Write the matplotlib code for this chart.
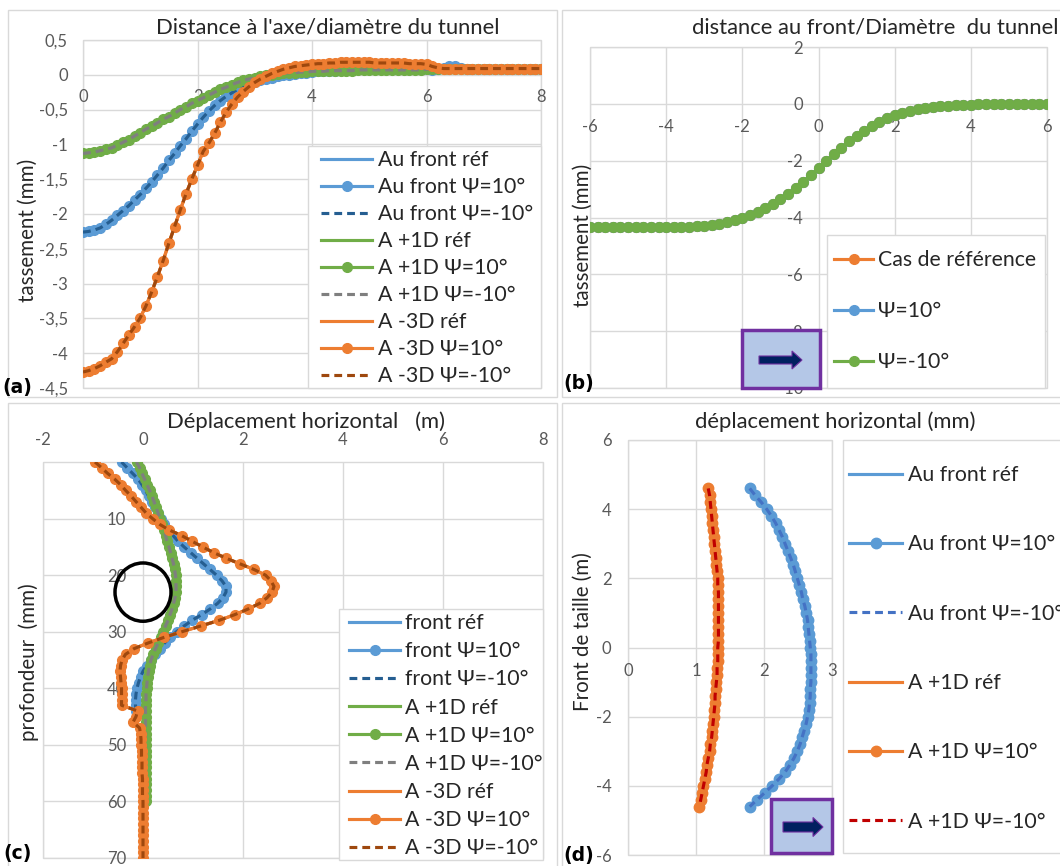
import numpy as np
import matplotlib.pyplot as plt
from matplotlib.patches import Rectangle, Ellipse, Polygon
from matplotlib.ticker import FuncFormatter, MultipleLocator

plt.rcParams['font.family'] = ['Lato', 'DejaVu Sans']

W, H = 1060, 866

# ---------------- (a) tassement vs distance a l'axe / D
dist_a = np.linspace(0, 8, 81)
a_front = [-2.26, -2.25, -2.23, -2.20, -2.15, -2.09, -2.02, -1.95, -1.88, -1.80,
           -1.72, -1.63, -1.54, -1.44, -1.34, -1.23, -1.13, -1.02, -0.92, -0.81,
           -0.71, -0.61, -0.52, -0.44, -0.37, -0.31, -0.26, -0.21, -0.17, -0.13,
           -0.10, -0.08, -0.06, -0.04, -0.02, -0.01, 0.00, 0.01, 0.02, 0.03,
           0.04, 0.05, 0.05, 0.06, 0.06, 0.07, 0.07, 0.07, 0.08, 0.08,
           0.08, 0.08, 0.08, 0.08, 0.08, 0.08, 0.08, 0.08, 0.08, 0.08,
           0.08, 0.07, 0.08, 0.10, 0.12, 0.12, 0.10, 0.09, 0.09, 0.09,
           0.09, 0.09, 0.09, 0.09, 0.09, 0.09, 0.09, 0.09, 0.09, 0.09,
           0.09]
a_plus1d = [-1.13, -1.12, -1.11, -1.09, -1.07, -1.05, -1.01, -0.97, -0.93, -0.88,
            -0.83, -0.78, -0.74, -0.69, -0.64, -0.60, -0.55, -0.50, -0.46, -0.41,
            -0.37, -0.33, -0.29, -0.25, -0.21, -0.18, -0.14, -0.11, -0.08, -0.06,
            -0.04, -0.02, -0.01, 0.00, 0.01, 0.02, 0.03, 0.03, 0.04, 0.04,
            0.05, 0.05, 0.05, 0.06, 0.06, 0.06, 0.06, 0.06, 0.07, 0.07,
            0.07, 0.07, 0.07, 0.07, 0.07, 0.07, 0.07, 0.07, 0.07, 0.07,
            0.08, 0.08, 0.08, 0.08, 0.08, 0.08, 0.08, 0.08, 0.08, 0.08,
            0.08, 0.08, 0.08, 0.08, 0.08, 0.08, 0.08, 0.08, 0.08, 0.08,
            0.08]
a_minus3d = [-4.27, -4.25, -4.22, -4.18, -4.13, -4.08, -3.98, -3.86, -3.74, -3.62,
             -3.49, -3.32, -3.12, -2.90, -2.67, -2.42, -2.18, -1.94, -1.71, -1.50,
             -1.30, -1.10, -0.98, -0.84, -0.68, -0.54, -0.42, -0.32, -0.24, -0.17,
             -0.11, -0.06, -0.02, 0.02, 0.05, 0.08, 0.10, 0.12, 0.13, 0.14,
             0.15, 0.16, 0.16, 0.17, 0.17, 0.18, 0.18, 0.18, 0.18, 0.18,
             0.18, 0.17, 0.17, 0.17, 0.17, 0.17, 0.17, 0.16, 0.16, 0.16,
             0.15, 0.12, 0.10, 0.09, 0.09, 0.09, 0.09, 0.09, 0.09, 0.09,
             0.09, 0.09, 0.09, 0.09, 0.09, 0.09, 0.09, 0.09, 0.09, 0.09,
             0.09]

# ---------------- (b) tassement vs distance au front / D
dist_b = np.linspace(-6, 6, 61)
b_settle = [-4.32, -4.32, -4.32, -4.32, -4.33, -4.33, -4.33, -4.33, -4.33, -4.33,
            -4.33, -4.33, -4.33, -4.32, -4.31, -4.29, -4.26, -4.22, -4.17, -4.10,
            -4.02, -3.92, -3.80, -3.68, -3.53, -3.35, -3.17, -2.97, -2.75, -2.50,
            -2.26, -2.01, -1.77, -1.54, -1.32, -1.12, -0.94, -0.78, -0.63, -0.51,
            -0.40, -0.31, -0.24, -0.18, -0.14, -0.11, -0.09, -0.07, -0.05, -0.04,
            -0.03, -0.02, -0.02, -0.01, -0.01, -0.01, 0.00, 0.00, 0.00, 0.00,
            0.00]
b_labels = ['Cas de référence', 'Ψ=10°', 'Ψ=-10°']

# ---------------- (c) deplacement horizontal vs profondeur
depth_c = np.arange(0, 71)
c_front = [-0.43, -0.32, -0.21, -0.10, -0.02, 0.05, 0.11, 0.17, 0.23, 0.29,
           0.35, 0.42, 0.50, 0.60, 0.70, 0.82, 0.95, 1.08, 1.21, 1.34,
           1.47, 1.58, 1.66, 1.66, 1.60, 1.49, 1.34, 1.17, 0.98, 0.82,
           0.67, 0.54, 0.43, 0.33, 0.24, 0.15, 0.07, 0.00, -0.05, -0.09,
           -0.12, -0.14, -0.15, -0.15, -0.14]
c_plus1d = [-0.13, -0.07, -0.02, 0.03, 0.08, 0.13, 0.18, 0.22, 0.26, 0.30,
            0.34, 0.38, 0.42, 0.45, 0.48, 0.52, 0.55, 0.58, 0.61, 0.63,
            0.65, 0.66, 0.66, 0.66, 0.64, 0.61, 0.58, 0.54, 0.50, 0.45,
            0.40, 0.35, 0.30, 0.25, 0.20, 0.16, 0.13, 0.11, 0.09, 0.08,
            0.07, 0.06, 0.06, 0.05, 0.05, 0.05, 0.05, 0.05, 0.05, 0.05,
            0.05, 0.05, 0.05, 0.05, 0.05, 0.05, 0.05, 0.05, 0.05, 0.05,
            0.05]
c_minus3d = [-0.96, -0.83, -0.71, -0.57, -0.45, -0.35, -0.24, -0.14, -0.04, 0.06,
             0.19, 0.33, 0.52, 0.77, 0.98, 1.19, 1.41, 1.66, 1.94, 2.22,
             2.45, 2.56, 2.62, 2.58, 2.48, 2.33, 2.10, 1.83, 1.52, 1.15,
             0.78, 0.42, 0.10, -0.18, -0.35, -0.42, -0.45, -0.46, -0.45, -0.44,
             -0.43, -0.43, -0.43, -0.43, -0.11, -0.14, -0.20, -0.07, -0.05, -0.04,
             -0.04, -0.03, -0.03, -0.02, -0.02, -0.02, -0.01, -0.01, -0.01, -0.01,
             0.00, 0.00, 0.00, 0.00, 0.00, 0.00, 0.00, 0.00, 0.00, 0.00,
             0.00]

# ---------------- (d) deplacement horizontal au front de taille
height_d = np.linspace(4.6, -4.6, 47)
d_front = [1.79, 1.87, 1.96, 2.04, 2.11, 2.17, 2.22, 2.27, 2.31, 2.35,
           2.39, 2.43, 2.46, 2.49, 2.52, 2.55, 2.57, 2.60, 2.62, 2.64,
           2.65, 2.66, 2.67, 2.68, 2.69, 2.69, 2.69, 2.69, 2.69, 2.68,
           2.68, 2.67, 2.66, 2.64, 2.62, 2.59, 2.56, 2.53, 2.49, 2.44,
           2.38, 2.31, 2.22, 2.12, 2.01, 1.90, 1.79]
d_plus1d = [1.18, 1.20, 1.21, 1.22, 1.23, 1.24, 1.25, 1.26, 1.27, 1.28,
            1.29, 1.30, 1.31, 1.32, 1.32, 1.33, 1.33, 1.33, 1.33, 1.33,
            1.33, 1.33, 1.33, 1.32, 1.32, 1.32, 1.31, 1.31, 1.30, 1.29,
            1.28, 1.28, 1.27, 1.26, 1.25, 1.24, 1.23, 1.21, 1.20, 1.18,
            1.16, 1.15, 1.13, 1.11, 1.09, 1.07, 1.05]

BLUE, DBLUE = '#5B9BD5', '#255E91'
GREEN, GREY = '#70AD47', '#7F7F7F'
ORANGE, BROWN = '#ED7D31', '#9E480E'
GRID = '#D9D9D9'
TXT = '#262626'
LW = 2.25
DASH = (0, (2.5, 1.6))
LEG_FS = 15.3
TITLE_FS = 15.8
LABEL_FS = 14.8
ROW = 19.85   # legend row height in px at LEG_FS
EM = LEG_FS * 100 / 72

fig = plt.figure(figsize=(W / 100, H / 100), dpi=100)


def fx(x):
    return x / W


def fy(y):
    return 1 - y / H


def add_ax(l, t, r, b):
    return fig.add_axes([fx(l), fy(b), (r - l) / W, (b - t) / H])


comma = FuncFormatter(lambda v, p: f"{v:g}".replace('.', ','))


def style(ax, pad_x=10, pad_y=11):
    for s in ax.spines.values():
        s.set_visible(False)
    ax.grid(True, color=GRID, lw=1)
    ax.set_axisbelow(True)
    ax.tick_params(length=0, labelsize=12, labelcolor='#595959')
    ax.tick_params(axis='x', pad=pad_x)
    ax.tick_params(axis='y', pad=pad_y)
    ax.xaxis.set_major_formatter(comma)
    ax.yaxis.set_major_formatter(comma)
    ax.add_patch(Rectangle((0, 0), 1, 1, transform=ax.transAxes, fill=False,
                           ec=GRID, lw=1, clip_on=False, zorder=0.5))


def trio(ax, xs, ys, color, dcolor, name, ms=7):
    ax.plot(xs, ys, color=color, lw=LW, label=f'{name} réf')
    ax.plot(xs, ys, color=color, lw=LW, marker='o', ms=ms, label=f'{name} Ψ=10°')
    ax.plot(xs, ys, color=dcolor, lw=LW, ls=DASH, label=f'{name} Ψ=-10°')


def legend(ax, box, hx, row1, hend, tx, spacing):
    # box: frame in px (l, t, r, b); hx: handle start; row1: first row centre
    l, t, r, b = box
    ax.add_patch(Rectangle((fx(l), fy(b)), (r - l) / W, (b - t) / H,
                           transform=fig.transFigure, fc='white', ec=GRID,
                           lw=1, clip_on=False, zorder=4.9))
    lg = ax.legend(fontsize=LEG_FS, frameon=False, loc='upper left',
                   bbox_to_anchor=(fx(hx), fy(row1 - ROW / 2)),
                   bbox_transform=fig.transFigure, borderpad=0, borderaxespad=0,
                   handlelength=(hend - hx) / EM, handletextpad=(tx - hend) / EM,
                   labelspacing=(spacing - ROW) / EM, labelcolor=TXT)
    lg.set_zorder(5)
    return lg


# panel frames
for l, t, r, b in [(8, 10, 557, 397), (562, 10, 1062, 397),
                   (8, 403, 557, 868), (562, 403, 1062, 868)]:
    fig.add_artist(Rectangle((fx(l), fy(b)), (r - l) / W, (b - t) / H,
                             transform=fig.transFigure, fill=False, ec=GRID, lw=1))

# ---- (a)
ax = add_ax(83, 40, 541, 388)
style(ax)
trio(ax, dist_a, a_front, BLUE, DBLUE, 'Au front')
trio(ax, dist_a, a_plus1d, GREEN, GREY, 'A +1D')
trio(ax, dist_a, a_minus3d, ORANGE, BROWN, 'A -3D')
ax.set_xlim(0, 8)
ax.set_ylim(-4.5, 0.5)
ax.xaxis.set_major_locator(MultipleLocator(2))
ax.yaxis.set_major_locator(MultipleLocator(0.5))
ax.spines['bottom'].set_position(('data', 0))
legend(ax, (308, 146, 541, 388), 321, 160, 372, 378, 26.9)
fig.text(fx(328), fy(28), "Distance à l'axe/diamètre du tunnel", fontsize=TITLE_FS,
         color=TXT, ha='center', va='center')
fig.text(fx(28), fy(230), 'tassement (mm)', fontsize=LABEL_FS, color=TXT,
         rotation=90, ha='center', va='center')

# ---- (b)
ax = add_ax(590, 47, 1047, 388)
style(ax, pad_x=11, pad_y=11)
for lab, col in zip(b_labels, [ORANGE, BLUE, GREEN]):
    ax.plot(dist_b, b_settle, color=col, lw=LW, marker='o', ms=7, label=lab)
ax.set_xlim(-6, 6)
ax.set_ylim(-10, 2)
ax.xaxis.set_major_locator(MultipleLocator(2))
ax.yaxis.set_major_locator(MultipleLocator(2))
ax.spines['bottom'].set_position(('data', 0))
ax.spines['left'].set_position(('data', 0))
legend(ax, (827, 235, 1045, 388), 834, 260, 873, 878, 51)
fig.text(fx(875), fy(28), 'distance au front/Diamètre  du tunnel', fontsize=TITLE_FS,
         color=TXT, ha='center', va='center')
fig.text(fx(583), fy(235), 'tassement (mm)', fontsize=LABEL_FS, color=TXT,
         rotation=90, ha='center', va='center')

# ---- (c)
ax = add_ax(43, 462, 543, 858)
style(ax, pad_x=10, pad_y=12)
trio(ax, c_front, depth_c[:len(c_front)], BLUE, DBLUE, 'front')
trio(ax, c_plus1d, depth_c[:len(c_plus1d)], GREEN, GREY, 'A +1D')
trio(ax, c_minus3d, depth_c[:len(c_minus3d)], ORANGE, BROWN, 'A -3D')
ax.add_patch(Ellipse((0, 23), 1.12, 10.3, fill=False, ec='black', lw=2.5, zorder=6))
ax.set_xlim(-2, 8)
ax.set_ylim(70, 0)
ax.xaxis.set_major_locator(MultipleLocator(2))
ax.xaxis.tick_top()
ax.spines['left'].set_position(('data', 0))
ax.set_yticks([10, 20, 30, 40, 50, 60, 70])
legend(ax, (339, 609, 543, 860), 349, 623, 400, 405, 28)
fig.text(fx(306), fy(422), 'Déplacement horizontal   (m)', fontsize=TITLE_FS,
         color=TXT, ha='center', va='center')
fig.text(fx(29), fy(662), 'profondeur  (mm)', fontsize=LABEL_FS, color=TXT,
         rotation=90, ha='center', va='center')

# ---- (d)
ax = add_ax(628, 440, 832, 855)
style(ax, pad_x=11, pad_y=12)
ax.plot(d_front, height_d, color=BLUE, lw=LW, label='Au front réf')
ax.plot(d_front, height_d, color=BLUE, lw=LW, marker='o', ms=7.5, label='Au front Ψ=10°')
ax.plot(d_front, height_d, color='#4472C4', lw=LW, ls=DASH, label='Au front Ψ=-10°')
ax.plot(d_plus1d, height_d, color=ORANGE, lw=LW, label='A +1D réf')
ax.plot(d_plus1d, height_d, color=ORANGE, lw=LW, marker='o', ms=7.5, label='A +1D Ψ=10°')
ax.plot(d_plus1d, height_d, color='#C00000', lw=LW, ls=DASH, label='A +1D Ψ=-10°')
ax.set_xlim(0, 3)
ax.set_ylim(-6, 6)
ax.xaxis.set_major_locator(MultipleLocator(1))
ax.yaxis.set_major_locator(MultipleLocator(2))
ax.spines['bottom'].set_position(('data', 0))
legend(ax, (843, 440, 1075, 853), 849, 475, 902, 908, 69.2)
fig.text(fx(835), fy(422), 'déplacement horizontal (mm)', fontsize=TITLE_FS,
         color=TXT, ha='center', va='center')
fig.text(fx(583), fy(632), 'Front de taille (m)', fontsize=LABEL_FS, color=TXT,
         rotation=90, ha='center', va='center')


# purple boxes with arrow
def box_arrow(l, t, r, b, x0, x1, ay, shaft, head, hlen):
    fig.add_artist(Rectangle((fx(l), fy(b)), (r - l) / W, (b - t) / H,
                             transform=fig.transFigure, fc='#B4C7E7',
                             ec='#7030A0', lw=2.5, zorder=10))
    xh = x1 - hlen
    pts = [(x0, ay - shaft), (xh, ay - shaft), (xh, ay - head), (x1, ay),
           (xh, ay + head), (xh, ay + shaft), (x0, ay + shaft)]
    fig.add_artist(Polygon([(fx(x), fy(y)) for x, y in pts], closed=True,
                           transform=fig.transFigure, fc='#002060',
                           ec='#7030A0', lw=0.8, zorder=11))


box_arrow(742, 330, 820, 388, 759, 802, 360, 4, 9, 10)
box_arrow(771, 799, 832, 853, 783, 823, 827, 5, 9.5, 10)

# panel letters
for x, y, s in [(2, 387, '(a)'), (563, 383, '(b)'), (3, 853, '(c)'), (563, 855, '(d)')]:
    fig.text(fx(x), fy(y), s, fontsize=13.5, fontweight='bold', color='black',
             family='DejaVu Sans', ha='left', va='center')

fig.savefig('out.png', dpi=100, facecolor='white')
